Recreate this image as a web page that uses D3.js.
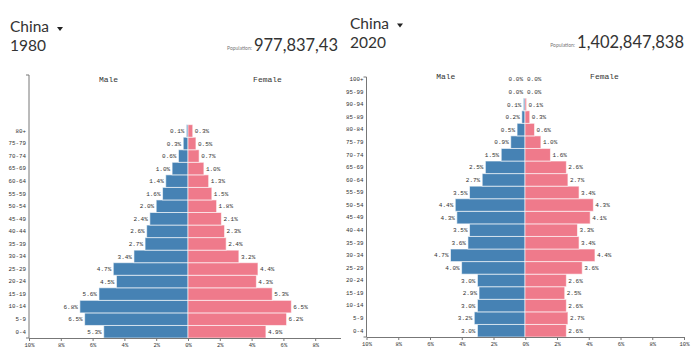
<!DOCTYPE html>
<html><head><meta charset="utf-8">
<script src="https://cdn.jsdelivr.net/npm/d3@7"></script>
<style>
html,body{margin:0;padding:0;background:#fff;}
svg{display:block;}
</style></head>
<body>
<svg id="c" width="700" height="356"></svg>
<script>
// ---- data ----
const ages1980 = ["0-4","5-9","10-14","15-19","20-24","25-29","30-34","35-39","40-44","45-49","50-54","55-59","60-64","65-69","70-74","75-79","80+"];
const male1980 = [5.3,6.5,6.8,5.6,4.5,4.7,3.4,2.7,2.6,2.4,2.0,1.6,1.4,1.0,0.6,0.3,0.1];
const female1980 = [4.9,6.2,6.5,5.3,4.3,4.4,3.2,2.4,2.3,2.1,1.8,1.5,1.3,1.0,0.7,0.5,0.3];
const ages2020 = ["0-4","5-9","10-14","15-19","20-24","25-29","30-34","35-39","40-44","45-49","50-54","55-59","60-64","65-69","70-74","75-79","80-84","85-89","90-94","95-99","100+"];
const male2020 = [3.0,3.2,3.0,2.9,3.0,4.0,4.7,3.6,3.5,4.3,4.4,3.5,2.7,2.5,1.5,0.9,0.5,0.2,0.1,0.0,0.0];
const female2020 = [2.6,2.7,2.6,2.5,2.6,3.6,4.4,3.4,3.3,4.1,4.3,3.4,2.7,2.6,1.6,1.0,0.6,0.3,0.1,0.0,0.0];
const xTickValues = [-10,-8,-6,-4,-2,0,2,4,6,8,10];
const country = "China";
const years = ["1980","2020"];
const populations = ["977,837,43","1,402,847,838"];

const MALE = "#4682b4", FEMALE = "#ef7a8b";
const svg = d3.select("#c");
const defs = svg.append("defs");
defs.append("clipPath").attr("id","clipL").append("rect").attr("x",0).attr("y",0).attr("width",341).attr("height",356);

const HF = "Lato";
function header(g, o){
  g.append("text").attr("x",o.x).attr("y",o.y1).attr("font-family",HF).attr("font-size",15.5).attr("fill","#333").text(country);
  g.append("path").attr("d",`M${o.tx},${o.ty} h6 l-3,4 z`).attr("fill","#222");
  g.append("text").attr("x",o.x).attr("y",o.y2).attr("font-family",HF).attr("font-size",15.5).attr("fill","#333").text(o.year);
  const num = g.append("text").attr("x",o.px).attr("y",o.y2).attr("text-anchor","end").attr("font-family",HF).attr("font-size",16.5).attr("fill","#333").text(o.pop);
  const w = num.node().getComputedTextLength();
  g.append("text").attr("x",o.px-w-2).attr("y",o.y2-1).attr("text-anchor","end").attr("font-family",HF).attr("font-size",5).attr("fill","#777").text("Population:");
}

function pyramid(g, o){
  const x = d3.scaleLinear().domain([-10,10]).range([o.left,o.right]);
  const xm = d3.scaleLinear().domain([0,10]).range([o.center,o.left]);
  const xf = d3.scaleLinear().domain([0,10]).range([o.center,o.right]);
  const y = d3.scaleBand().domain(o.ages).range([o.bottom, o.bottom - o.ages.length*o.bh]);
  const fmt = d => d3.format(".1f")(d) + "%";
  const rows = o.ages.map((a,i)=>({age:a, m:o.male[i], f:o.female[i]}));

  g.selectAll("rect.m").data(rows).join("rect").attr("class","m")
    .attr("x",d=>xm(d.m)).attr("y",d=>y(d.age)).attr("width",d=>xm(0)-xm(d.m)).attr("height",y.bandwidth())
    .attr("fill",MALE).attr("stroke","#fff").attr("stroke-opacity",0.6).attr("stroke-width",1);
  g.selectAll("rect.f").data(rows).join("rect").attr("class","f")
    .attr("x",xf(0)).attr("y",d=>y(d.age)).attr("width",d=>xf(d.f)-xf(0)).attr("height",y.bandwidth())
    .attr("fill",FEMALE).attr("stroke","#fff").attr("stroke-opacity",0.6).attr("stroke-width",1);

  g.selectAll("text.ml").data(rows).join("text").attr("class","ml")
    .attr("x",d=>xm(d.m)-2).attr("y",d=>y(d.age)+y.bandwidth()/2).attr("dy","0.35em").attr("text-anchor","end")
    .attr("font-family","Liberation Mono").attr("font-size",6).attr("fill","#333").text(d=>fmt(d.m));
  g.selectAll("text.fl").data(rows).join("text").attr("class","fl")
    .attr("x",d=>xf(d.f)+2).attr("y",d=>y(d.age)+y.bandwidth()/2).attr("dy","0.35em").attr("text-anchor","start")
    .attr("font-family","Liberation Mono").attr("font-size",6).attr("fill","#333").text(d=>fmt(d.f));

  const ya = g.append("g").attr("transform",`translate(${o.left},0)`)
    .call(d3.axisLeft(y).tickSize(0).tickPadding(3));
  ya.select(".domain").attr("d",`M-3,${o.axisTop}H0V${o.bottom}H-3`).attr("stroke","#777");
  ya.selectAll("text").attr("font-family","Liberation Mono").attr("font-size",5.8).attr("fill","#333");

  const xa = g.append("g").attr("transform",`translate(0,${o.bottom})`)
    .call(d3.axisBottom(x).tickValues(xTickValues).tickSize(3).tickSizeOuter(0).tickFormat(d=>Math.abs(d)+"%"));
  xa.select(".domain").attr("stroke","#777");
  xa.selectAll("line").attr("stroke","#777");
  xa.selectAll("text").attr("font-family","Liberation Mono").attr("font-size",5.5).attr("fill","#333").attr("dy","0.5em");

  g.append("text").attr("x",(o.left+o.center)/2).attr("y",o.titleY).attr("text-anchor","middle")
    .attr("font-family","Liberation Mono").attr("font-size",8).attr("fill","#333").text("Male");
  g.append("text").attr("x",(o.right+o.center)/2).attr("y",o.titleY).attr("text-anchor","middle")
    .attr("font-family","Liberation Mono").attr("font-size",8).attr("fill","#333").text("Female");
}

const gL = svg.append("g").attr("clip-path","url(#clipL)");
header(gL,{x:10,y1:32,y2:51,tx:57,ty:27,year:years[0],pop:populations[0],px:338});
pyramid(gL,{ages:ages1980,male:male1980,female:female1980,left:29,center:188,right:347,bottom:338,bh:12.55,axisTop:75,titleY:82});

const gR = svg.append("g");
header(gR,{x:350,y1:29,y2:48,tx:397,ty:23.5,year:years[1],pop:populations[1],px:684});
pyramid(gR,{ages:ages2020,male:male2020,female:female2020,left:366.5,center:525,right:684,bottom:337,bh:12.57,axisTop:77,titleY:79});
</script>
</body></html>
